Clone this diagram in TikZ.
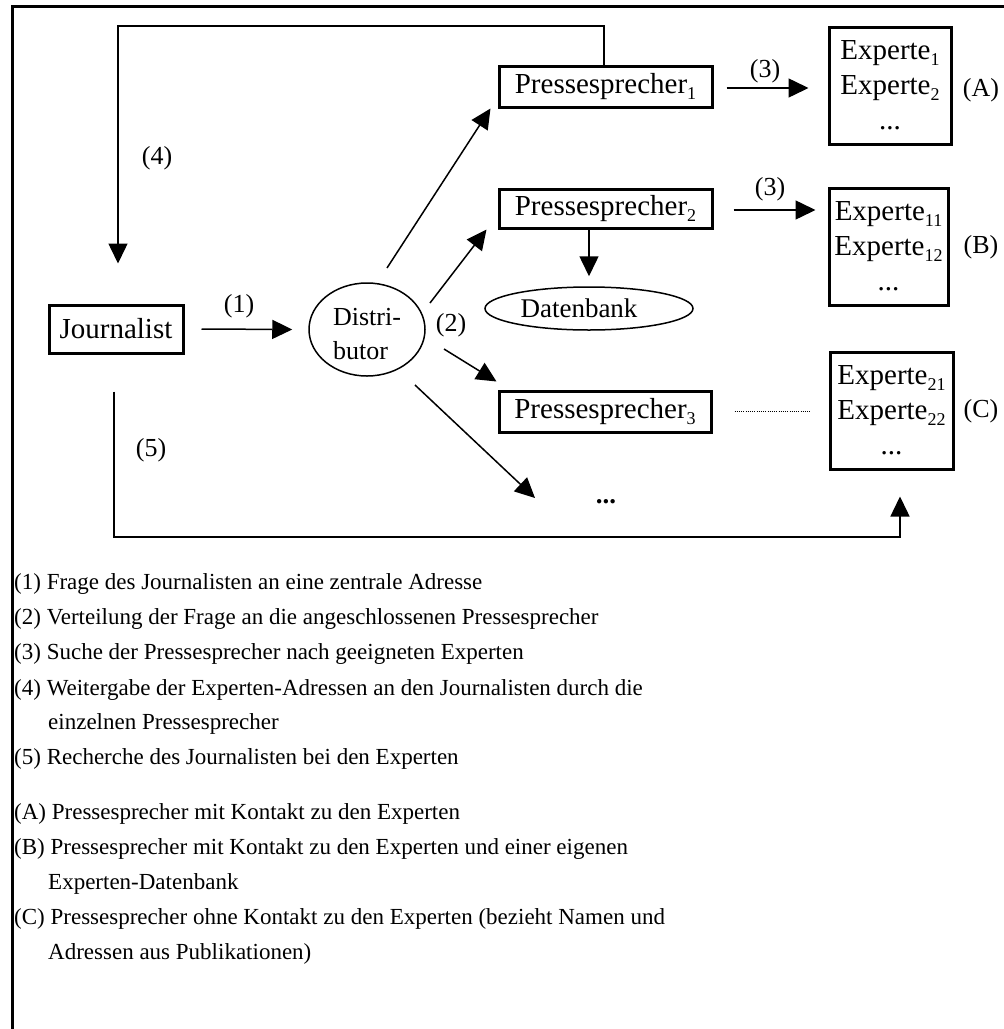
\documentclass[tikz,border=0pt]{standalone}
\usepackage{fontspec}
\setmainfont{Liberation Serif}
\usetikzlibrary{arrows.meta,shapes.geometric}
\newcommand{\fsz}[2]{\fontsize{#1}{#2}\selectfont}
\newcommand{\sbs}[1]{\raisebox{-6pt}{\fsz{18}{18}#1}}
\begin{document}
\begin{tikzpicture}[x=1pt,y=-1pt,
  box/.style={draw, line width=3pt, inner sep=0pt, font=\fsz{29}{29}},
  expbox/.style={box, minimum height=117, align=center, font=\fsz{29}{35}},
  oval/.style={draw, ellipse, line width=1.5pt, inner sep=0pt},
  lbl/.style={font=\fsz{26}{26}, inner sep=0pt},
  arr/.style={line width=1.5pt, -{Triangle[length=20pt,width=19pt]}},
  leg/.style={font=\fsz{23}{23}, anchor=base west, inner sep=0pt},
]
\useasboundingbox (0,0) rectangle (1004,1029);
\fill[white] (0,0) rectangle (1004,1029);
\draw[line width=3pt] (12,1029) -- (12,6) -- (1004,6);

% nodes
\node[box, minimum width=134, minimum height=48] (jour) at (116,329) {Journalist};
\node[oval, minimum width=116, minimum height=93, align=left, font=\fsz{26}{34}] (dist) at (367,329.5) {\rule{0pt}{26pt}Distri-\\butor};
\node[box, minimum width=213, minimum height=41] (ps1) at (605.5,86.5) {Pressesprecher\sbs{1}};
\node[box, minimum width=213, minimum height=39] (ps2) at (605.5,208.5) {Pressesprecher\sbs{2}};
\node[box, minimum width=212, minimum height=41] (ps3) at (605,411.5) {Pressesprecher\sbs{3}};
\node[oval, minimum width=208, minimum height=43, font=\fsz{27}{27}] (db) at (589,308.5) {Datenbank\hspace*{20pt}};
\node[expbox, minimum width=122] (expA) at (890,85.5) {Experte\sbs{1}\\Experte\sbs{2}\\...};
\node[expbox, minimum width=119] (expB) at (888.5,246.5) {Experte\sbs{11}\\Experte\sbs{12}\\...};
\node[expbox, minimum width=123] (expC) at (891.5,410.5) {Experte\sbs{21}\\Experte\sbs{22}\\...};
\node[font=\fsz{27}{27}\bfseries, inner sep=0pt] (more) at (606,502) {...};

% labels
\node[lbl] (l1) at (239,306) {(1)};
\node[lbl] (l2) at (451,325) {(2)};
\node[lbl] (l3a) at (765,71) {(3)};
\node[lbl] (l3b) at (770,189) {(3)};
\node[lbl] (l4) at (157,158) {(4)};
\node[lbl] (l5) at (151,450) {(5)};
\node[lbl] (lA) at (981,90) {(A)};
\node[lbl] (lB) at (981,247) {(B)};
\node[lbl] (lC) at (981,411) {(C)};

% connectors
\draw[arr] ([xshift=17pt]jour.east) -- ([xshift=-16pt]dist.west);
\draw[arr] ([shift={(20,-61.5)}]dist.center) -- ([shift={(-7,0)}]ps1.south west);
\draw[arr] ([shift={(63,-26.5)}]dist.center) -- ([shift={(-11,0)}]ps2.south west);
\draw[arr] ([shift={(77,19.5)}]dist.center) -- ([shift={(-1,-8)}]ps3.north west);
\draw[arr] ([shift={(48,55.5)}]dist.center) -- ([shift={(-71,-4)}]more.center);
\draw[arr] (ps2.south -| db.north) -- ([shift={(0,-10)}]db.north);
\draw[arr] ([shift={(13,1.5)}]ps1.east) -- ([shift={(-19,1.5)}]ps1.east -| expA.west);
\draw[arr] ([shift={(20,1.5)}]ps2.east) -- ([shift={(-12,1.5)}]ps2.east -| expB.west);
\draw[line width=1.2pt, dash pattern=on 1pt off 1.2pt] ([xshift=22pt]ps3.east) -- ([xshift=-19pt]ps3.east -| expC.west);

\coordinate (c4a) at (604,26);
\coordinate (c4b) at (118,26);
\draw[arr] (ps1.north -| c4a) -- (c4a) -- (c4b) -- ([shift={(2,-40)}]jour.north);

\coordinate (c5b) at (114,537);
\coordinate (c5c) at (900,537);
\draw[arr] ([shift={(-2,37)}]jour.south) -- (c5b) -- (c5c) -- ([shift={(0,26)}]expC.south -| c5c);

% legend
\node[leg] (t1) at (14,589) {(1) Frage des Journalisten an eine zentrale Adresse};
\node[leg] (t2) at (14,624) {(2) Verteilung der Frage an die angeschlossenen Pressesprecher};
\node[leg] (t3) at (14,659) {(3) Suche der Pressesprecher nach geeigneten Experten};
\node[leg] (t4) at (14,695) {(4) Weitergabe der Experten-Adressen an den Journalisten durch die};
\node[leg] (t4b) at (48,729) {einzelnen Pressesprecher};
\node[leg] (t5) at (14,764) {(5) Recherche des Journalisten bei den Experten};
\node[leg] (tA) at (14,819) {(A) Pressesprecher mit Kontakt zu den Experten};
\node[leg] (tB) at (14,854) {(B) Pressesprecher mit Kontakt zu den Experten und einer eigenen};
\node[leg] (tB2) at (48,889) {Experten-Datenbank};
\node[leg] (tC) at (14,924) {(C) Pressesprecher ohne Kontakt zu den Experten (bezieht Namen und};
\node[leg] (tC2) at (48,959) {Adressen aus Publikationen)};
\end{tikzpicture}
\end{document}
